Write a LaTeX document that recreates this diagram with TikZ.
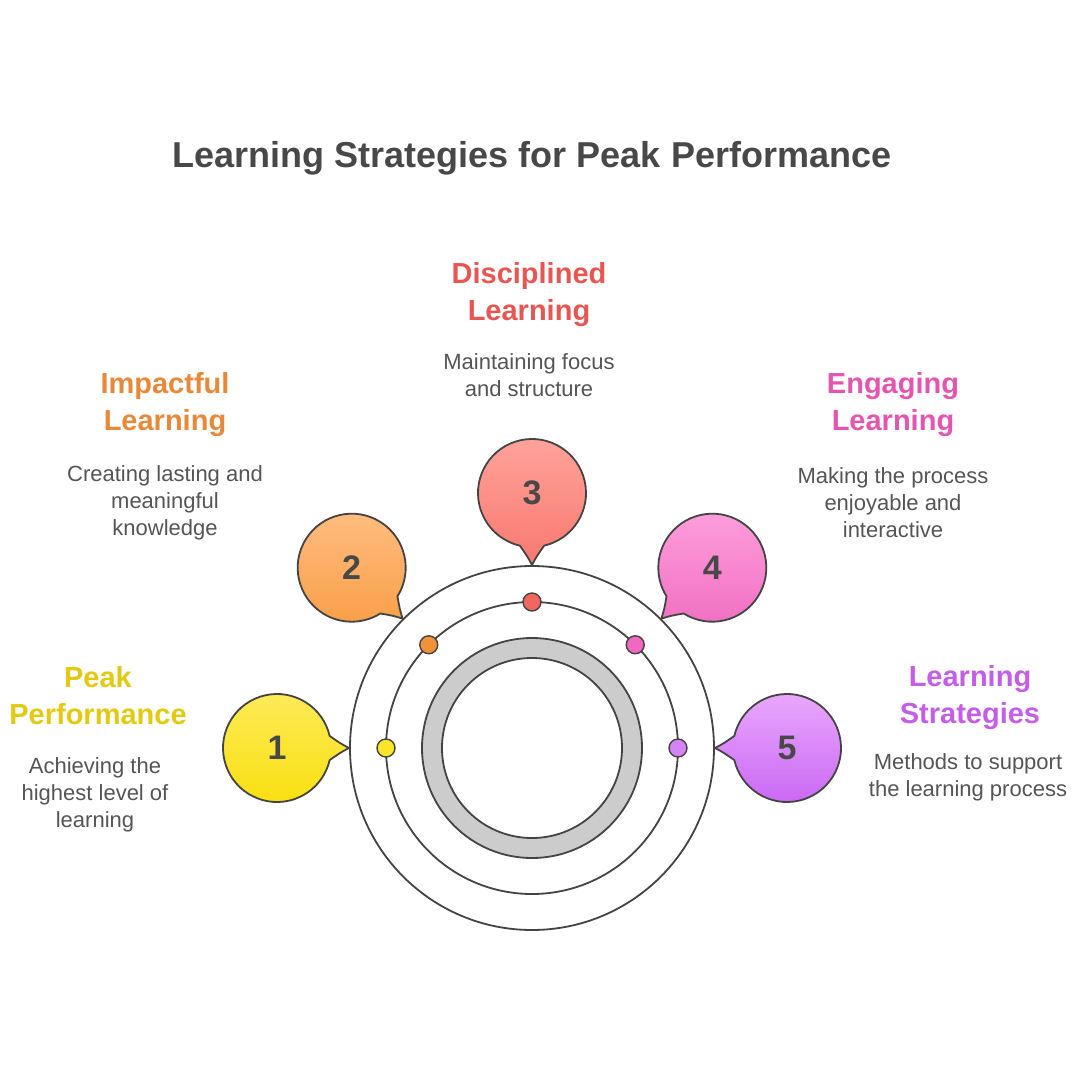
\documentclass[tikz,border=0pt]{standalone}
\usepackage{fontspec}
\setmainfont{Liberation Sans}
\usetikzlibrary{calc}
\definecolor{linec}{HTML}{444444}
\definecolor{titlec}{HTML}{484848}
\definecolor{descc}{HTML}{555555}
\definecolor{ringc}{HTML}{CCCCCC}
\definecolor{yA}{HTML}{FDEB5A}\definecolor{yB}{HTML}{F9DF0E}\definecolor{yD}{HTML}{F9E52A}\definecolor{yT}{HTML}{E2CA12}
\definecolor{oA}{HTML}{FFBE82}\definecolor{oB}{HTML}{F99F48}\definecolor{oD}{HTML}{F0923A}\definecolor{oT}{HTML}{E8893A}
\definecolor{rA}{HTML}{FFA49C}\definecolor{rB}{HTML}{F87970}\definecolor{rD}{HTML}{F26660}\definecolor{rT}{HTML}{E85652}
\definecolor{pA}{HTML}{FFA0DC}\definecolor{pB}{HTML}{F06EC2}\definecolor{pD}{HTML}{F068C0}\definecolor{pT}{HTML}{E455B0}
\definecolor{vA}{HTML}{EAAAFD}\definecolor{vB}{HTML}{C966F3}\definecolor{vD}{HTML}{D683F7}\definecolor{vT}{HTML}{C45EE8}
\tikzset{
  ring/.style={draw=linec, line width=1.8pt},
  dotc/.style={circle, draw=linec, line width=1.4pt, minimum size=18pt, inner sep=0pt},
  numtxt/.style={font=\fontsize{34}{36}\selectfont\bfseries, text=titlec, inner sep=0pt},
  headtxt/.style={font=\fontsize{29}{37}\selectfont\bfseries, align=center, inner sep=0pt},
  desctxt/.style={font=\fontsize{22}{27}\selectfont, text=descc, align=center, inner sep=0pt},
}
\begin{document}
\begin{tikzpicture}[x=1pt,y=1pt]
\useasboundingbox (0,0) rectangle (1080,-1080);
\fill[white] (0,0) rectangle (1080,-1080);
\coordinate (C) at (532,-748);
\node[font=\fontsize{36}{40}\selectfont\bfseries, text=titlec] (title) at (532,-158) {Learning Strategies for Peak Performance};
% rings
\draw[ring] (C) circle[radius=182];
\draw[ring] (C) circle[radius=146];
\path[fill=ringc, even odd rule] (C) circle[radius=110] (C) circle[radius=90];
\draw[ring] (C) circle[radius=110];
\draw[ring] (C) circle[radius=90];
% bubbles and dots
\foreach \i/\ang/\ca/\cb/\cd in {1/180/yA/yB/yD, 2/135/oA/oB/oD, 3/90/rA/rB/rD, 4/45/pA/pB/pD, 5/0/vA/vB/vD}{
  \coordinate (b\i) at ($(C)+(\ang:255)$);
  \coordinate (t\i) at ($(C)+(\ang:183)$);
  \path[draw=linec, line width=1.8pt, line join=round, top color=\ca, bottom color=\cb]
    ($(b\i)+(\ang+180+13:54)$) arc[start angle=\ang+193, delta angle=334, radius=54]
    .. controls ($(b\i)+(\ang+180-4.5:63)$) .. (t\i)
    .. controls ($(b\i)+(\ang+180+4.5:63)$) .. cycle;
  \node[numtxt] (n\i) at (b\i) {\i};
  \node[dotc, fill=\cd] (d\i) at ($(C)+(\ang:146)$) {};
}
% labels
\node[headtxt, text=yT] (h1) at (98,-696) {Peak\\Performance};
\node[desctxt] (s1) at (95,-795) {Achieving the\\highest level of\\learning};
\node[headtxt, text=oT] (h2) at (165,-405) {Impactful\\Learning};
\node[desctxt] (s2) at (165,-503) {Creating lasting and\\meaningful\\knowledge};
\node[headtxt, text=rT] (h3) at (529,-295) {Disciplined\\Learning};
\node[desctxt] (s3) at (529,-375) {Maintaining focus\\and structure};
\node[headtxt, text=pT] (h4) at (893,-405) {Engaging\\Learning};
\node[desctxt] (s4) at (893,-503) {Making the process\\enjoyable and\\interactive};
\node[headtxt, text=vT] (h5) at (970,-698) {Learning\\Strategies};
\node[desctxt] (s5) at (968,-777) {Methods to support\\the learning process};
\end{tikzpicture}
\end{document}
